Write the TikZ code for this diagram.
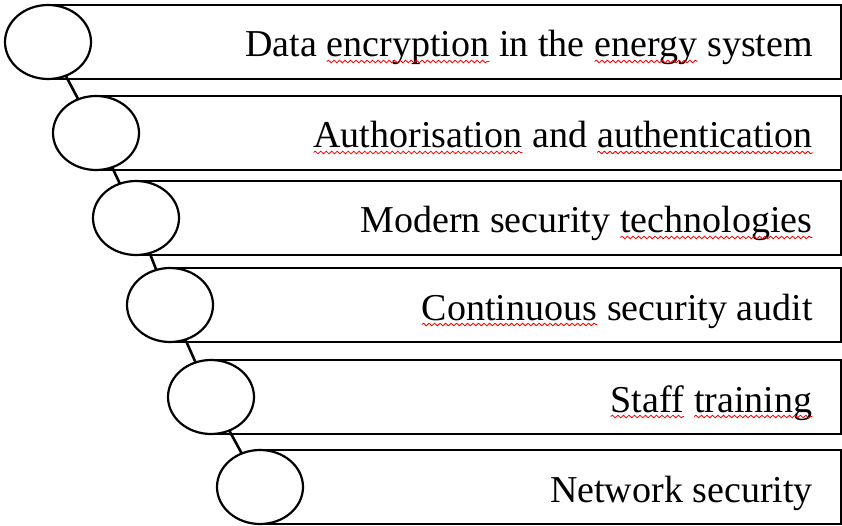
\documentclass[tikz,border=0pt]{standalone}
\usepackage{fontspec}
\setmainfont{Liberation Serif}
\usetikzlibrary{shapes.geometric,decorations.pathmorphing}
\newcommand\typo[1]{\tikz[baseline=(w.base)]{%
    \node[anchor=base,inner sep=0pt,outer sep=0pt,draw=none,fill=none] (w) {#1};
    \draw[red,line width=0.8pt,decorate,decoration={snake,amplitude=1.3pt,segment length=5.5pt}]
      ([yshift=-4.5pt]w.base west) -- ([yshift=-4.5pt]w.base east);}}

\begin{document}
\begin{tikzpicture}[x=1pt,y=-1pt,
    bar/.style={draw,line width=2.2pt,minimum height=74pt,inner sep=0pt,anchor=west},
    bead/.style={draw,line width=2.2pt,fill=white,ellipse,minimum width=86pt,minimum height=74pt,inner sep=0pt},
    link/.style={draw,line width=2.6pt,shorten <=-1pt,shorten >=-1pt},
    caption/.style={anchor=base east,inner sep=0pt,font=\fontsize{38}{40}\selectfont}]
  \useasboundingbox (0,0) rectangle (842,526);
  \foreach \n/\cx/\cy/\txt in {%
      1/48/42/{Data \typo{encryption} in the \typo{energy} system},
      2/96/133/{\typo{Authorisation} and \typo{authentication}},
      3/136/218/{Modern security \typo{technologies}},
      4/170/305/{\typo{Continuous} security audit},
      5/211/397/{\typo{Staff} \typo{training}},
      6/260/487/{Network security}}
  {
    \node[bar,minimum width={840-\cx}] (bar\n) at (\cx,\cy) {};
    \node[bead] (bead\n) at (\cx,\cy) {};
    \node[caption] (label\n) at (813,\cy+15) {\txt};
  }
  \foreach \a/\b in {1/2,2/3,3/4,4/5,5/6}
    \path[link] (bead\a) -- (bead\b);
\end{tikzpicture}
\end{document}
